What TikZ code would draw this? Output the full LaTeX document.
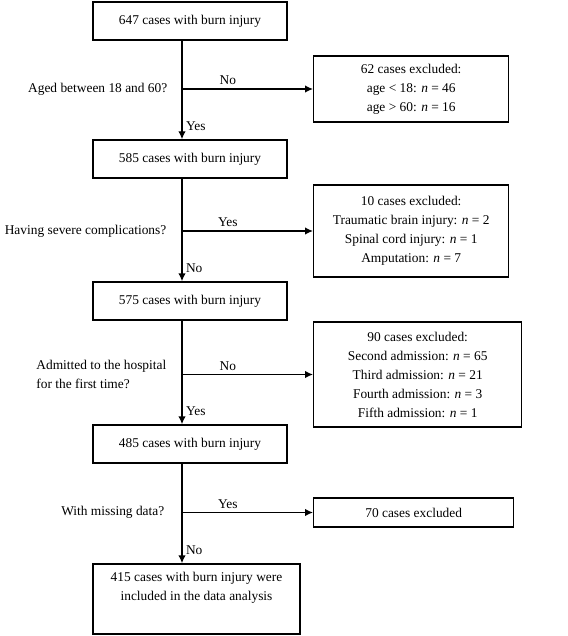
\documentclass[tikz,border=0pt]{standalone}
\usepackage{fontspec}
\setmainfont{Liberation Serif}
\usetikzlibrary{positioning,arrows.meta}
\tikzset{
  box/.style={draw, line width=1.4pt, align=center, inner sep=3pt},
  ask/.style={align=left, inner sep=0pt},
}
\begin{document}
\begin{tikzpicture}[>={Latex[length=8pt,width=7.5pt]}, x=1pt, y=-1pt, line width=1.4pt, font=\fontsize{13.4}{19}\selectfont]
\useasboundingbox (0,0) rectangle (567,636);
\coordinate (sp) at (182,0);
% main column
\node[box, minimum width=194, minimum height=38] (b1) at (190,21) {647 cases with burn injury};
\node[box, minimum width=194, minimum height=38] (b2) at (190,159) {585 cases with burn injury};
\node[box, minimum width=194, minimum height=38] (b3) at (190,301) {575 cases with burn injury};
\node[box, minimum width=194, minimum height=38] (b4) at (190,444) {485 cases with burn injury};
\node[box, minimum width=207, minimum height=70] (b5) at (196.5,599)
    {415 cases with burn injury were\\included in the data analysis\\\strut};
% excluded
\node[box, minimum width=195, minimum height=66, anchor=west] (s1) at (313,89)
    {62 cases excluded:\\age < 18: \textit{n} = 46\\age > 60: \textit{n} = 16};
\node[box, minimum width=195, minimum height=92, anchor=west] (s2) at (313,231)
    {10 cases excluded:\\Traumatic brain injury: \textit{n} = 2\\Spinal cord injury: \textit{n} = 1\\Amputation: \textit{n} = 7};
\node[box, minimum width=208, minimum height=105, anchor=west] (s3) at (313,374.5)
    {90 cases excluded:\\Second admission: \textit{n} = 65\\Third admission: \textit{n} = 21\\Fourth admission: \textit{n} = 3\\Fifth admission: \textit{n} = 1};
\node[box, minimum width=200, minimum height=29, anchor=west] (s4) at (313,512.5) {70 cases excluded};
% connectors
\foreach \a/\b/\t in {b1/b2/Yes, b2/b3/No, b3/b4/Yes, b4/b5/No}
{
    \draw[->] (\a.south -| sp) -- node[pos=.87, right]{\t} (\b.north -| sp);
}
\foreach \s/\t in {s1/No, s2/Yes, s3/No, s4/Yes}
{
    \coordinate (j\s) at (\s.west -| sp);
    \draw[->] (j\s) -- node[pos=.35, above]{\t} (\s.west);
}
% questions
\node[ask, left=14pt of js1] (q1) {Aged between 18 and 60?};
\node[ask, left=15pt of js2] (q2) {Having severe complications?};
\node[ask, left=15pt of js3] (q3) {Admitted to the hospital\\for the first time?};
\node[ask, left=17pt of js4] (q4) {With missing data?};
\end{tikzpicture}
\end{document}
